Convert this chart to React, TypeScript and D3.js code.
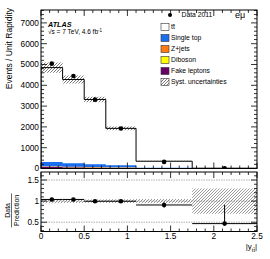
import React from 'react'
import * as d3 from 'd3'

// bin edges in |y_tt|
const binEdges = [0, 0.25, 0.5, 0.75, 1.1, 1.75, 2.5]
// events / unit rapidity
const ttbar = [4540, 4030, 3120, 1776, 310, 11.8]
const singleTop = [200, 160, 128, 99, 25, 1.5]
const zJets = [18, 15, 12, 9, 3, 0.4]
const diboson = [12, 10, 8, 6, 2, 0.3]
const fakes = [80, 65, 52, 40, 10, 1]
const relSyst = [0.05, 0.045, 0.04, 0.045, 0.05, 0.3]
const dataVals = [5040, 4450, 3310, 1925, 318, 7]
const dataErrUp = [75, 70, 60, 45, 22, 6.7]
const dataErrDown = [75, 70, 60, 45, 22, 0]

const mainTicks = [0, 1000, 2000, 3000, 4000, 5000, 6000, 7000]
const ratioTicks = [0.5, 1, 1.5]
const xTicks = [0, 0.5, 1, 1.5, 2, 2.5]

const legendItems = [
  { label: 'tt\u0304', color: '#ffffff' },
  { label: 'Single top', color: '#1a6ff0' },
  { label: 'Z+jets', color: '#ff7a12' },
  { label: 'Diboson', color: '#ffff00' },
  { label: 'Fake leptons', color: '#660066' },
]

const font = '"Liberation Sans", Arial, Helvetica, sans-serif'

export default function App() {
  const W = 270
  const H = 259
  const left = 41
  const right = 257
  const mainTop = 10
  const mainBottom = 168.5
  const ratioTop = 172
  const ratioBottom = 231.5

  const x = d3.scaleLinear().domain([0, 2.5]).range([left, right])
  const y = d3.scaleLinear().domain([0, 7620]).range([mainBottom, mainTop])
  const yr = d3.scaleLinear().domain([0.28, 1.69]).range([ratioBottom, ratioTop])

  const nb = dataVals.length
  const bins = d3.range(nb).map((i) => ({ x0: binEdges[i], x1: binEdges[i + 1], c: (binEdges[i] + binEdges[i + 1]) / 2 }))

  // stack order bottom -> top
  const layers = [
    { vals: fakes, color: '#660066' },
    { vals: diboson, color: '#ffff00' },
    { vals: zJets, color: '#ff7a12' },
    { vals: singleTop, color: '#1a6ff0' },
    { vals: ttbar, color: '#ffffff' },
  ]
  const cum: number[][] = []
  let base = d3.range(nb).map(() => 0)
  layers.forEach((l) => {
    const top = base.map((b, i) => b + l.vals[i])
    cum.push(base)
    base = top
  })
  const total = base

  const stepArea = (lo: number[], hi: number[]) => {
    let d = ''
    bins.forEach((b, i) => {
      d += `M${x(b.x0)},${y(lo[i])}H${x(b.x1)}V${y(hi[i])}H${x(b.x0)}Z`
    })
    return d
  }

  const stepLine = () => {
    let d = `M${x(0)},${y(0)}`
    bins.forEach((b, i) => {
      d += `V${y(total[i])}H${x(b.x1)}`
    })
    d += `V${y(0)}`
    return d
  }

  const ratio = dataVals.map((v, i) => v / total[i])

  const majorLen = 6
  const minorLen = 3
  const xMinor = d3.range(0, 2.501, 0.1)
  const yMinor = d3.range(0, 7620, 200)
  const rMinor = d3.range(0.3, 1.69, 0.1)

  const legTop = 27
  const legStep = 11

  return (
    <svg width={W} height={H} style={{ position: 'absolute', left: 0, top: 0, background: '#fff' }} fontFamily={font}>
      <defs>
        <pattern id="hatch" patternUnits="userSpaceOnUse" width="3" height="3">
          <path d="M-1,1 l2,-2 M0,3 l3,-3 M2,4 l2,-2" stroke="#222" strokeWidth="0.6" />
        </pattern>
        <pattern id="hatchGray" patternUnits="userSpaceOnUse" width="3" height="3">
          <path d="M-1,1 l2,-2 M0,3 l3,-3 M2,4 l2,-2" stroke="#555" strokeWidth="0.6" />
        </pattern>
        <clipPath id="mainClip">
          <rect x={left} y={mainTop} width={right - left} height={mainBottom - mainTop} />
        </clipPath>
        <clipPath id="ratioClip">
          <rect x={left} y={ratioTop} width={right - left} height={ratioBottom - ratioTop} />
        </clipPath>
      </defs>

      {/* main panel */}
      <g clipPath="url(#mainClip)">
        {layers.slice(0, 4).map((l, k) => (
          <path key={k} d={stepArea(cum[k], cum[k].map((b, i) => b + l.vals[i]))} fill={l.color} />
        ))}
        <path d={stepArea(total.map((t, i) => t * (1 - relSyst[i])), total.map((t, i) => t * (1 + relSyst[i])))} fill="url(#hatch)" />
        <path d={stepLine()} fill="none" stroke="#000" strokeWidth={1} />
        {bins.map((b, i) => (
          <g key={i}>
            <line x1={x(b.c)} x2={x(b.c)} y1={y(dataVals[i] + dataErrUp[i])} y2={y(dataVals[i] - dataErrDown[i])} stroke="#000" strokeWidth={1} />
            <circle cx={x(b.c)} cy={y(dataVals[i])} r={2.3} fill="#000" />
          </g>
        ))}
      </g>
      <rect x={left} y={mainTop} width={right - left} height={mainBottom - mainTop} fill="none" stroke="#000" strokeWidth={1} />

      {/* main ticks */}
      {xMinor.map((t, i) => {
        const major = Math.abs(t * 2 - Math.round(t * 2)) < 1e-6
        const len = major ? majorLen : minorLen
        return (
          <g key={'mx' + i} stroke="#000" strokeWidth={0.8}>
            <line x1={x(t)} x2={x(t)} y1={mainBottom} y2={mainBottom - len} />
            <line x1={x(t)} x2={x(t)} y1={mainTop} y2={mainTop + len} />
            <line x1={x(t)} x2={x(t)} y1={ratioBottom} y2={ratioBottom - len} />
            <line x1={x(t)} x2={x(t)} y1={ratioTop} y2={ratioTop + len} />
          </g>
        )
      })}
      {yMinor.map((t, i) => {
        const len = t % 1000 === 0 ? majorLen : minorLen
        return (
          <g key={'my' + i} stroke="#000" strokeWidth={0.8}>
            <line x1={left} x2={left + len} y1={y(t)} y2={y(t)} />
            <line x1={right} x2={right - len} y1={y(t)} y2={y(t)} />
          </g>
        )
      })}
      {mainTicks.map((t) => (
        <text key={'yl' + t} x={left - 2} y={y(t)} dy="0.35em" textAnchor="end" fontSize={8.3}>
          {t}
        </text>
      ))}
      <text transform="translate(11.5,8) rotate(-90)" textAnchor="end" fontSize={8.5}>
        Events / Unit Rapidity
      </text>

      {/* labels */}
      <text x={48} y={26.5} fontSize={7.2} fontWeight="bold" fontStyle="italic">
        ATLAS
      </text>
      <text x={48} y={34} fontSize={6.5}>
        {'\u221As = 7 TeV, 4.6 fb'}
        <tspan dy={-2.5} fontSize={4.5}>
          -1
        </tspan>
      </text>
      <text x={235} y={18} fontSize={9}>
        e{'\u03bc'}
      </text>

      {/* legend */}
      <circle cx={170} cy={15} r={2} fill="#000" />
      <text x={181.5} y={15} dy="0.35em" fontSize={6.8}>
        Data 2011
      </text>
      {legendItems.map((d, i) => {
        const cy = legTop + i * legStep
        return (
          <g key={d.label}>
            <rect x={161} y={cy - 3.5} width={8} height={7} fill={d.color} stroke="#333" strokeWidth={0.6} />
            <text x={171} y={cy} dy="0.35em" fontSize={6.8}>
              {d.label}
            </text>
          </g>
        )
      })}
      <rect x={161} y={legTop + 5 * legStep - 3.5} width={8} height={7} fill="url(#hatch)" stroke="#333" strokeWidth={0.6} />
      <text x={171} y={legTop + 5 * legStep} dy="0.35em" fontSize={6.8}>
        Syst. uncertainties
      </text>

      {/* ratio panel */}
      <g clipPath="url(#ratioClip)">
        {ratioTicks.map((t) => (
          <line key={'rl' + t} x1={left} x2={right} y1={yr(t)} y2={yr(t)} stroke="#999" strokeWidth={0.8} strokeDasharray="1.5,1" />
        ))}
        <path
          d={bins
            .map((b, i) => `M${x(b.x0)},${yr(1 - relSyst[i])}H${x(b.x1)}V${yr(1 + relSyst[i])}H${x(b.x0)}Z`)
            .join('')}
          fill="url(#hatchGray)"
        />
        {bins.map((b, i) => (
          <g key={'r' + i} stroke="#000" strokeWidth={1}>
            <line x1={x(b.x0)} x2={x(b.x1)} y1={yr(ratio[i])} y2={yr(ratio[i])} />
            <line
              x1={x(b.c)}
              x2={x(b.c)}
              y1={yr((dataVals[i] + dataErrUp[i]) / total[i])}
              y2={yr((dataVals[i] - dataErrDown[i]) / total[i])}
            />
            <circle cx={x(b.c)} cy={yr(ratio[i])} r={2.3} fill="#000" stroke="none" />
          </g>
        ))}
      </g>
      <rect x={left} y={ratioTop} width={right - left} height={ratioBottom - ratioTop} fill="none" stroke="#000" strokeWidth={1} />
      {rMinor.map((t, i) => {
        const major = Math.abs(t * 2 - Math.round(t * 2)) < 1e-6
        const len = major ? majorLen : minorLen
        return (
          <g key={'ry' + i} stroke="#000" strokeWidth={0.8}>
            <line x1={left} x2={left + len} y1={yr(t)} y2={yr(t)} />
            <line x1={right} x2={right - len} y1={yr(t)} y2={yr(t)} />
          </g>
        )
      })}
      {ratioTicks.map((t) => (
        <text key={'rt' + t} x={left - 2} y={yr(t)} dy="0.35em" textAnchor="end" fontSize={8.3}>
          {t}
        </text>
      ))}
      <text transform={`translate(10,${yr(0.78)}) rotate(-90)`} textAnchor="middle" fontSize={7}>
        Data
      </text>
      <line x1={11.5} x2={11.5} y1={yr(0.78) - 17} y2={yr(0.78) + 17} stroke="#000" strokeWidth={0.6} />
      <text transform={`translate(18.5,${yr(0.78)}) rotate(-90)`} textAnchor="middle" fontSize={7}>
        Prediction
      </text>

      {xTicks.map((t) => (
        <text key={'xt' + t} x={x(t)} y={239} textAnchor="middle" fontSize={8.3}>
          {t}
        </text>
      ))}
      <text x={right} y={249} textAnchor="end" fontSize={8}>
        |y
        <tspan dy={2.5} fontSize={5.5}>
          {'tt\u0304'}
        </tspan>
        <tspan dy={-2.5}>|</tspan>
      </text>
    </svg>
  )
}
